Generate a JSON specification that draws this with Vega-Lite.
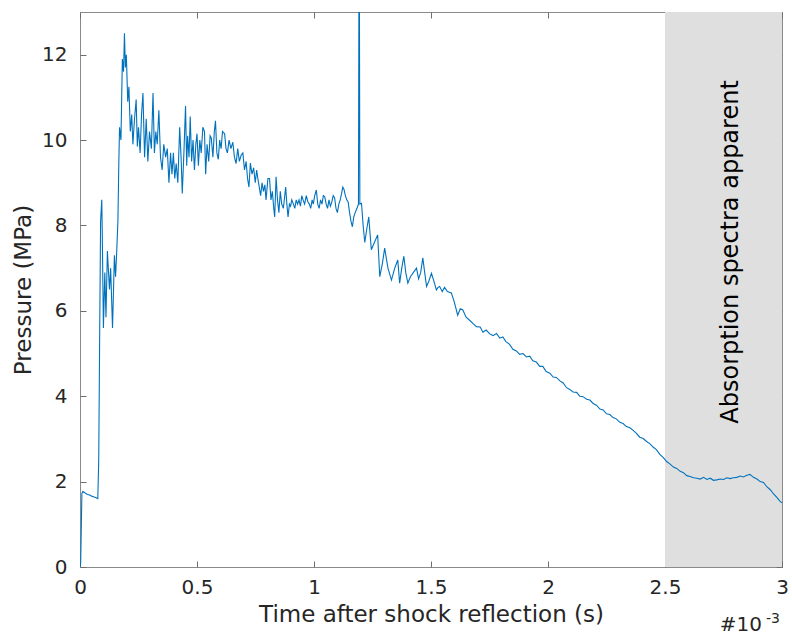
{
  "$schema": "https://vega.github.io/schema/vega-lite/v6.json",
  "width": 702,
  "height": 555,
  "autosize": {"type": "none"},
  "padding": {"left": 80, "top": 12, "right": 10, "bottom": 72},
  "config": {
    "font": "DejaVu Sans",
    "view": {"stroke": "#8a8a8a", "strokeWidth": 1},
    "axis": {
      "domain": false,
      "grid": false,
      "tickColor": "#6e6e6e",
      "tickWidth": 1,
      "tickSize": -6,
      "labelFont": "DejaVu Sans",
      "labelFontSize": 20,
      "labelColor": "#262626",
      "titleFont": "DejaVu Sans",
      "titleFontSize": 23,
      "titleFontWeight": "normal",
      "titleColor": "#262626"
    }
  },
  "resolve": {"axis": {"x": "independent", "y": "independent"}},
  "layer": [
    {
      "data": {"values": [{"x0": 2.5, "x1": 3.0}]},
      "mark": {"type": "rect", "color": "#dfdfdf"},
      "encoding": {
        "x": {"field": "x0", "type": "quantitative", "scale": {"domain": [0, 3], "nice": false},
              "axis": {"orient": "bottom", "values": [0, 0.5, 1, 1.5, 2, 2.5, 3], "format": "~g", "labelPadding": 16, "labelFlush": false, "title": "Time after shock reflection (s)", "titlePadding": 6}},
        "x2": {"field": "x1"},
        "y": {"datum": 0, "type": "quantitative", "scale": {"domain": [0, 13], "nice": false},
              "axis": {"orient": "left", "values": [0, 2, 4, 6, 8, 10, 12], "format": "~g", "labelPadding": 19, "title": "Pressure (MPa)", "titlePadding": 6}},
        "y2": {"datum": 13}
      }
    },
    {
      "data": {"values": [
        {"t": 0.000, "p": 0},
        {"t": 0.003, "p": 0.1},
        {"t": 0.008, "p": 1.72},
        {"t": 0.012, "p": 1.77},
        {"t": 0.018, "p": 1.75},
        {"t": 0.025, "p": 1.72},
        {"t": 0.032, "p": 1.70},
        {"t": 0.040, "p": 1.69},
        {"t": 0.050, "p": 1.66},
        {"t": 0.060, "p": 1.64},
        {"t": 0.069, "p": 1.62},
        {"t": 0.076, "p": 1.60},
        {"t": 0.080, "p": 2.5},
        {"t": 0.084, "p": 5.4},
        {"t": 0.088, "p": 8.1},
        {"t": 0.091, "p": 8.4},
        {"t": 0.093, "p": 8.6},
        {"t": 0.095, "p": 7.9},
        {"t": 0.100, "p": 5.6},
        {"t": 0.106, "p": 6.9},
        {"t": 0.111, "p": 5.85},
        {"t": 0.117, "p": 7.4},
        {"t": 0.126, "p": 6.5},
        {"t": 0.131, "p": 7.0},
        {"t": 0.139, "p": 5.6},
        {"t": 0.147, "p": 7.3},
        {"t": 0.152, "p": 6.8},
        {"t": 0.157, "p": 7.4},
        {"t": 0.162, "p": 8.1},
        {"t": 0.166, "p": 9.5},
        {"t": 0.169, "p": 10.3},
        {"t": 0.175, "p": 10.0},
        {"t": 0.181, "p": 11.9},
        {"t": 0.186, "p": 11.6},
        {"t": 0.190, "p": 12.5},
        {"t": 0.194, "p": 11.7},
        {"t": 0.198, "p": 12.0},
        {"t": 0.204, "p": 10.9},
        {"t": 0.209, "p": 11.25},
        {"t": 0.215, "p": 10.2},
        {"t": 0.221, "p": 10.6},
        {"t": 0.226, "p": 9.9},
        {"t": 0.233, "p": 10.5},
        {"t": 0.240, "p": 10.95},
        {"t": 0.245, "p": 9.85},
        {"t": 0.250, "p": 10.3},
        {"t": 0.257, "p": 9.7},
        {"t": 0.263, "p": 10.6},
        {"t": 0.269, "p": 11.1},
        {"t": 0.276, "p": 9.6},
        {"t": 0.283, "p": 10.5},
        {"t": 0.290, "p": 9.5},
        {"t": 0.297, "p": 10.2},
        {"t": 0.305, "p": 9.8},
        {"t": 0.312, "p": 11.1},
        {"t": 0.318, "p": 9.7},
        {"t": 0.324, "p": 10.2},
        {"t": 0.330, "p": 9.9},
        {"t": 0.337, "p": 10.7},
        {"t": 0.344, "p": 9.6},
        {"t": 0.351, "p": 9.3},
        {"t": 0.358, "p": 9.9},
        {"t": 0.366, "p": 9.6},
        {"t": 0.373, "p": 9.8},
        {"t": 0.380, "p": 9.0},
        {"t": 0.387, "p": 9.7},
        {"t": 0.393, "p": 9.2},
        {"t": 0.399, "p": 9.7},
        {"t": 0.405, "p": 9.1},
        {"t": 0.411, "p": 9.45},
        {"t": 0.418, "p": 9.0},
        {"t": 0.426, "p": 10.3},
        {"t": 0.432, "p": 9.6},
        {"t": 0.437, "p": 8.75},
        {"t": 0.444, "p": 9.7},
        {"t": 0.451, "p": 10.8},
        {"t": 0.456, "p": 9.4},
        {"t": 0.460, "p": 10.1},
        {"t": 0.466, "p": 9.6},
        {"t": 0.471, "p": 10.55},
        {"t": 0.477, "p": 9.5},
        {"t": 0.483, "p": 10.0},
        {"t": 0.489, "p": 9.3},
        {"t": 0.495, "p": 9.9},
        {"t": 0.500, "p": 10.15},
        {"t": 0.506, "p": 9.4},
        {"t": 0.512, "p": 10.0},
        {"t": 0.518, "p": 9.7},
        {"t": 0.525, "p": 10.3},
        {"t": 0.532, "p": 10.2},
        {"t": 0.537, "p": 9.2},
        {"t": 0.543, "p": 9.9},
        {"t": 0.550, "p": 9.5},
        {"t": 0.556, "p": 10.1},
        {"t": 0.561, "p": 10.05},
        {"t": 0.568, "p": 9.6},
        {"t": 0.574, "p": 10.2},
        {"t": 0.579, "p": 10.45},
        {"t": 0.585, "p": 9.7},
        {"t": 0.591, "p": 9.55},
        {"t": 0.597, "p": 10.0},
        {"t": 0.603, "p": 9.8},
        {"t": 0.609, "p": 10.2},
        {"t": 0.618, "p": 10.15},
        {"t": 0.624, "p": 9.8},
        {"t": 0.630, "p": 9.7},
        {"t": 0.637, "p": 10.0},
        {"t": 0.645, "p": 9.8},
        {"t": 0.653, "p": 9.95},
        {"t": 0.660, "p": 9.6},
        {"t": 0.667, "p": 9.45},
        {"t": 0.674, "p": 9.8},
        {"t": 0.681, "p": 9.5},
        {"t": 0.689, "p": 9.65},
        {"t": 0.696, "p": 9.7},
        {"t": 0.703, "p": 9.3},
        {"t": 0.710, "p": 9.5},
        {"t": 0.716, "p": 9.1},
        {"t": 0.722, "p": 8.9},
        {"t": 0.728, "p": 9.46},
        {"t": 0.735, "p": 9.2},
        {"t": 0.742, "p": 9.35},
        {"t": 0.749, "p": 9.0},
        {"t": 0.755, "p": 9.3},
        {"t": 0.760, "p": 9.1},
        {"t": 0.766, "p": 8.9},
        {"t": 0.772, "p": 8.7},
        {"t": 0.778, "p": 9.0},
        {"t": 0.784, "p": 8.8},
        {"t": 0.790, "p": 8.95},
        {"t": 0.795, "p": 8.6},
        {"t": 0.803, "p": 9.1},
        {"t": 0.810, "p": 9.1},
        {"t": 0.816, "p": 8.6},
        {"t": 0.822, "p": 8.8},
        {"t": 0.828, "p": 8.4},
        {"t": 0.832, "p": 8.2},
        {"t": 0.838, "p": 9.14},
        {"t": 0.844, "p": 8.6},
        {"t": 0.850, "p": 8.3},
        {"t": 0.856, "p": 8.8},
        {"t": 0.862, "p": 8.5},
        {"t": 0.869, "p": 8.4},
        {"t": 0.875, "p": 8.7},
        {"t": 0.879, "p": 8.9},
        {"t": 0.884, "p": 8.5},
        {"t": 0.889, "p": 8.2},
        {"t": 0.895, "p": 8.5},
        {"t": 0.900, "p": 8.45},
        {"t": 0.905, "p": 8.6},
        {"t": 0.912, "p": 8.5},
        {"t": 0.918, "p": 8.4},
        {"t": 0.924, "p": 8.6},
        {"t": 0.930, "p": 8.5},
        {"t": 0.936, "p": 8.6},
        {"t": 0.942, "p": 8.45},
        {"t": 0.948, "p": 8.7},
        {"t": 0.953, "p": 8.6},
        {"t": 0.960, "p": 8.5},
        {"t": 0.967, "p": 8.7},
        {"t": 0.974, "p": 8.55},
        {"t": 0.980, "p": 8.5},
        {"t": 0.986, "p": 8.4},
        {"t": 0.992, "p": 8.6},
        {"t": 0.997, "p": 8.5},
        {"t": 1.003, "p": 8.7},
        {"t": 1.010, "p": 8.83},
        {"t": 1.016, "p": 8.5},
        {"t": 1.022, "p": 8.4},
        {"t": 1.028, "p": 8.6},
        {"t": 1.034, "p": 8.5},
        {"t": 1.040, "p": 8.7},
        {"t": 1.046, "p": 8.67},
        {"t": 1.052, "p": 8.5},
        {"t": 1.058, "p": 8.4},
        {"t": 1.064, "p": 8.6},
        {"t": 1.070, "p": 8.45},
        {"t": 1.076, "p": 8.55},
        {"t": 1.082, "p": 8.7},
        {"t": 1.088, "p": 8.65},
        {"t": 1.094, "p": 8.4},
        {"t": 1.100, "p": 8.3},
        {"t": 1.106, "p": 8.5},
        {"t": 1.112, "p": 8.6},
        {"t": 1.118, "p": 8.75},
        {"t": 1.123, "p": 8.9},
        {"t": 1.128, "p": 8.85},
        {"t": 1.134, "p": 8.7},
        {"t": 1.140, "p": 8.6},
        {"t": 1.146, "p": 8.55},
        {"t": 1.152, "p": 8.3},
        {"t": 1.158, "p": 8.1},
        {"t": 1.164, "p": 7.97},
        {"t": 1.170, "p": 8.2},
        {"t": 1.176, "p": 8.3},
        {"t": 1.184, "p": 8.41},
        {"t": 1.190, "p": 8.5},
        {"t": 1.193, "p": 16},
        {"t": 1.196, "p": 8.5},
        {"t": 1.203, "p": 8.52},
        {"t": 1.210, "p": 8.0},
        {"t": 1.217, "p": 7.6},
        {"t": 1.225, "p": 7.9},
        {"t": 1.234, "p": 8.2},
        {"t": 1.245, "p": 7.43},
        {"t": 1.258, "p": 7.6},
        {"t": 1.272, "p": 7.78},
        {"t": 1.281, "p": 6.8},
        {"t": 1.292, "p": 7.1},
        {"t": 1.302, "p": 7.47},
        {"t": 1.316, "p": 7.0},
        {"t": 1.331, "p": 6.72},
        {"t": 1.345, "p": 7.0},
        {"t": 1.358, "p": 7.19},
        {"t": 1.366, "p": 6.65},
        {"t": 1.375, "p": 7.0},
        {"t": 1.384, "p": 7.28},
        {"t": 1.392, "p": 6.9},
        {"t": 1.401, "p": 6.65},
        {"t": 1.412, "p": 6.8},
        {"t": 1.425, "p": 6.9},
        {"t": 1.438, "p": 7.0},
        {"t": 1.447, "p": 6.75},
        {"t": 1.456, "p": 6.9},
        {"t": 1.465, "p": 7.24},
        {"t": 1.473, "p": 6.9},
        {"t": 1.481, "p": 6.57},
        {"t": 1.491, "p": 6.7},
        {"t": 1.502, "p": 6.88},
        {"t": 1.512, "p": 6.7},
        {"t": 1.523, "p": 6.49},
        {"t": 1.530, "p": 6.55},
        {"t": 1.537, "p": 6.57},
        {"t": 1.548, "p": 6.45},
        {"t": 1.558, "p": 6.55},
        {"t": 1.570, "p": 6.45},
        {"t": 1.587, "p": 6.42},
        {"t": 1.600, "p": 6.2},
        {"t": 1.614, "p": 5.9},
        {"t": 1.625, "p": 6.05},
        {"t": 1.636, "p": 6.02},
        {"t": 1.650, "p": 5.85},
        {"t": 1.665, "p": 5.78},
        {"t": 1.680, "p": 5.7},
        {"t": 1.694, "p": 5.63},
        {"t": 1.710, "p": 5.62},
        {"t": 1.722, "p": 5.5},
        {"t": 1.736, "p": 5.55},
        {"t": 1.751, "p": 5.46},
        {"t": 1.765, "p": 5.42},
        {"t": 1.780, "p": 5.47},
        {"t": 1.794, "p": 5.36},
        {"t": 1.807, "p": 5.39},
        {"t": 1.820, "p": 5.28},
        {"t": 1.835, "p": 5.22},
        {"t": 1.850, "p": 5.1},
        {"t": 1.865, "p": 5.06},
        {"t": 1.879, "p": 4.98},
        {"t": 1.893, "p": 5.0},
        {"t": 1.908, "p": 4.92},
        {"t": 1.922, "p": 4.94},
        {"t": 1.935, "p": 4.83},
        {"t": 1.950, "p": 4.8},
        {"t": 1.965, "p": 4.7},
        {"t": 1.978, "p": 4.7},
        {"t": 1.992, "p": 4.58},
        {"t": 2.008, "p": 4.54},
        {"t": 2.022, "p": 4.45},
        {"t": 2.036, "p": 4.44},
        {"t": 2.051, "p": 4.36},
        {"t": 2.065, "p": 4.31},
        {"t": 2.079, "p": 4.2},
        {"t": 2.093, "p": 4.16},
        {"t": 2.107, "p": 4.1},
        {"t": 2.122, "p": 4.09},
        {"t": 2.136, "p": 4.0},
        {"t": 2.150, "p": 3.99},
        {"t": 2.165, "p": 3.93},
        {"t": 2.179, "p": 3.91},
        {"t": 2.193, "p": 3.83},
        {"t": 2.207, "p": 3.79},
        {"t": 2.222, "p": 3.7},
        {"t": 2.236, "p": 3.68},
        {"t": 2.250, "p": 3.59},
        {"t": 2.264, "p": 3.57},
        {"t": 2.278, "p": 3.5},
        {"t": 2.292, "p": 3.47},
        {"t": 2.307, "p": 3.39},
        {"t": 2.321, "p": 3.36},
        {"t": 2.335, "p": 3.29},
        {"t": 2.350, "p": 3.26},
        {"t": 2.364, "p": 3.2},
        {"t": 2.378, "p": 3.13},
        {"t": 2.392, "p": 3.04},
        {"t": 2.407, "p": 3.01},
        {"t": 2.421, "p": 2.94},
        {"t": 2.435, "p": 2.89},
        {"t": 2.449, "p": 2.81},
        {"t": 2.463, "p": 2.75},
        {"t": 2.478, "p": 2.64},
        {"t": 2.493, "p": 2.56},
        {"t": 2.507, "p": 2.47},
        {"t": 2.522, "p": 2.41},
        {"t": 2.536, "p": 2.34},
        {"t": 2.550, "p": 2.31},
        {"t": 2.565, "p": 2.24},
        {"t": 2.579, "p": 2.21},
        {"t": 2.593, "p": 2.14},
        {"t": 2.607, "p": 2.12},
        {"t": 2.622, "p": 2.09},
        {"t": 2.636, "p": 2.08},
        {"t": 2.650, "p": 2.06},
        {"t": 2.665, "p": 2.1},
        {"t": 2.679, "p": 2.05},
        {"t": 2.693, "p": 2.08},
        {"t": 2.707, "p": 2.03},
        {"t": 2.721, "p": 2.04},
        {"t": 2.736, "p": 2.06},
        {"t": 2.750, "p": 2.05},
        {"t": 2.764, "p": 2.09},
        {"t": 2.778, "p": 2.07},
        {"t": 2.792, "p": 2.09},
        {"t": 2.807, "p": 2.1},
        {"t": 2.821, "p": 2.13},
        {"t": 2.835, "p": 2.11},
        {"t": 2.850, "p": 2.15},
        {"t": 2.863, "p": 2.17},
        {"t": 2.878, "p": 2.1},
        {"t": 2.893, "p": 2.06},
        {"t": 2.907, "p": 2.0},
        {"t": 2.921, "p": 1.98},
        {"t": 2.935, "p": 1.88},
        {"t": 2.950, "p": 1.81},
        {"t": 2.964, "p": 1.71},
        {"t": 2.978, "p": 1.63},
        {"t": 2.990, "p": 1.55},
        {"t": 3.000, "p": 1.5}
      ]},
      "mark": {"type": "line", "color": "#0072BD", "strokeWidth": 1.1, "clip": true},
      "encoding": {
        "x": {"field": "t", "type": "quantitative", "axis": {"orient": "top", "values": [0, 0.5, 1, 1.5, 2, 2.5, 3], "labels": false, "title": null}},
        "y": {"field": "p", "type": "quantitative", "axis": {"orient": "right", "values": [0, 2, 4, 6, 8, 10, 12], "labels": false, "title": null}}
      }
    },
    {
      "data": {"values": [{"t": 2.782, "p": 7.38, "label": "Absorption spectra apparent"}]},
      "mark": {"type": "text", "angle": 270, "align": "center", "baseline": "middle", "fontSize": 24, "color": "#000000", "font": "DejaVu Sans"},
      "encoding": {
        "x": {"field": "t", "type": "quantitative", "axis": null},
        "y": {"field": "p", "type": "quantitative", "axis": null},
        "text": {"field": "label"}
      }
    },
    {
      "data": {"values": [{"t": 3.0, "p": 0, "label": "#10"}]},
      "mark": {"type": "text", "align": "right", "baseline": "alphabetic", "fontSize": 20, "color": "#262626", "dx": -20, "dy": 64, "clip": false, "font": "DejaVu Sans"},
      "encoding": {
        "x": {"field": "t", "type": "quantitative", "axis": null},
        "y": {"field": "p", "type": "quantitative", "axis": null},
        "text": {"field": "label"}
      }
    },
    {
      "data": {"values": [{"t": 3.0, "p": 0, "label": "-3"}]},
      "mark": {"type": "text", "align": "right", "baseline": "alphabetic", "fontSize": 14, "color": "#262626", "dx": -2, "dy": 56, "clip": false, "font": "DejaVu Sans"},
      "encoding": {
        "x": {"field": "t", "type": "quantitative", "axis": null},
        "y": {"field": "p", "type": "quantitative", "axis": null},
        "text": {"field": "label"}
      }
    }
  ]
}
